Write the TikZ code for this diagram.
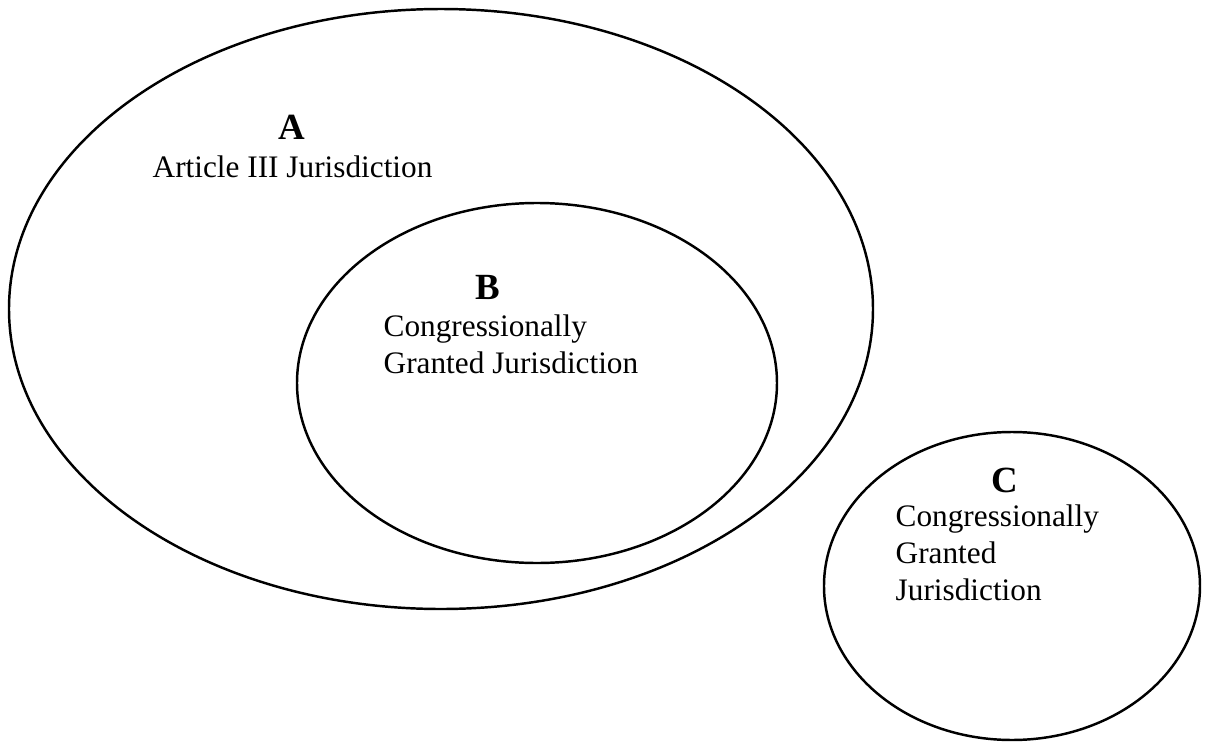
\documentclass[tikz,border=0pt]{standalone}
\usepackage{fontspec}
\setmainfont{Liberation Serif}
\tikzset{
	setline/.style={line width=0.7pt},
	setletter/.style={anchor=base, inner sep=0pt, font=\fontsize{10.5}{12}\selectfont\bfseries},
	settext/.style={anchor=base west, inner sep=0pt, align=left, font=\fontsize{8.9}{10.5}\selectfont}
}
\begin{document}
\begin{tikzpicture}
				\useasboundingbox (0,0) rectangle (12.11,7.55);
				\draw[setline] (4.41,4.46) ellipse (4.32cm and 3.00cm);
				\draw[setline] (5.37,3.72) ellipse (2.40cm and 1.80cm);
				\draw[setline] (10.12,1.69) ellipse (1.88cm and 1.54cm);
				\node[setletter] (letterA) at (2.92,6.16) {A};
				\node[settext] (textA) at (1.52,5.78) {Article III Jurisdiction};
				\node[setletter] (letterB) at (4.88,4.56) {B};
				\node[settext] (textB) at (3.83,3.82) {Congressionally\\Granted Jurisdiction};
				\node[setletter] (letterC) at (10.05,2.63) {C};
				\node[settext] (textC) at (8.95,1.55) {Congressionally\\Granted\\Jurisdiction};
\end{tikzpicture}
\end{document}
